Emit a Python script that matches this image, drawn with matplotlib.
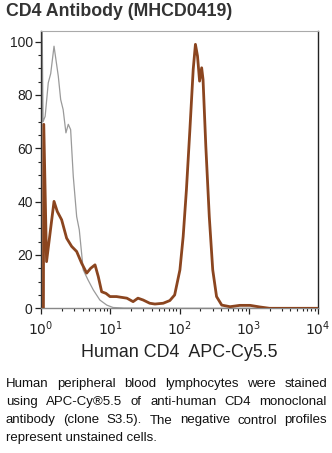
import matplotlib
matplotlib.use("Agg")
import matplotlib.pyplot as plt
import numpy as np
from matplotlib.ticker import FixedLocator, MultipleLocator

plt.rcParams['font.family'] = ['Liberation Sans', 'DejaVu Sans']

# log10(fluorescence) positions and % of max values
control_logx = [0.0, 0.015, 0.03, 0.06, 0.105, 0.14, 0.188, 0.25, 0.284, 0.32, 0.36, 0.394, 0.428,
                0.466, 0.515, 0.553, 0.61, 0.68, 0.755, 0.85, 0.95, 1.04, 1.2, 2.0, 3.0, 4.0]
control_vals = [0.0, 110.0, 70.0, 72.0, 84.6, 88.0, 98.3, 87.0, 78.3, 74.5, 65.8, 69.0, 67.0,
                49.5, 34.4, 29.4, 14.4, 10.6, 6.9, 3.1, 1.2, 0.3, 0.1, 0.0, 0.0, 0.0]

stained_logx = [0.035, 0.04, 0.08, 0.188, 0.235, 0.298, 0.37, 0.443, 0.515, 0.587, 0.66, 0.717,
                0.78, 0.827, 0.876, 0.938, 0.996, 1.09, 1.24, 1.33, 1.40, 1.476, 1.57, 1.645,
                1.765, 1.86, 1.93, 2.006, 2.053, 2.10, 2.15, 2.198, 2.23, 2.26, 2.29, 2.32, 2.34,
                2.38, 2.43, 2.48, 2.535, 2.61, 2.73, 2.87, 3.02, 3.16, 3.3, 4.0]
stained_vals = [0.0, 69.0, 17.5, 40.1, 36.3, 33.2, 26.3, 23.2, 21.3, 16.9, 13.2, 15.0,
                16.3, 11.9, 6.2, 5.6, 4.4, 4.4, 3.8, 2.5, 3.8, 3.1, 1.9, 1.6,
                1.9, 2.9, 5.0, 14.4, 26.9, 44.5, 67.0, 89.6, 99.0, 94.6, 85.2, 90.2, 85.8,
                60.8, 34.4, 14.4, 4.4, 1.2, 0.6, 1.1, 1.1, 0.5, 0.0, 0.0]

xtick_labels = [r'$10^{0}$', r'$10^{1}$', r'$10^{2}$', r'$10^{3}$', r'$10^{4}$']
yticks = [0, 20, 40, 60, 80, 100]

title = "CD4 Antibody (MHCD0419)"
xlabel = "Human CD4  APC-Cy5.5"
caption_lines = [
    "Human peripheral blood lymphocytes were stained",
    "using APC-Cy\u00ae5.5 of anti-human CD4 monoclonal",
    "antibody (clone S3.5). The negative control profiles",
    "represent unstained cells.",
]

W, H = 332, 453
fig = plt.figure(figsize=(W / 100, H / 100), dpi=100)
fig.patch.set_facecolor('white')

ax_l, ax_r, ax_t, ax_b = 41, 318, 31, 308.3
ax = fig.add_axes([ax_l / W, 1 - ax_b / H, (ax_r - ax_l) / W, (ax_b - ax_t) / H])

cx = np.power(10.0, control_logx)
sx = np.power(10.0, stained_logx)
ax.plot(cx, control_vals, color='#9a9a9a', lw=0.9, zorder=2)
ax.plot(sx, stained_vals, color='#8b451f', lw=2.0, zorder=3, solid_joinstyle='round')

ax.set_xscale('log')
ax.set_xlim(1, 1e4)
ax.set_ylim(0, 104)

ax.xaxis.set_major_locator(FixedLocator([1, 10, 100, 1000, 10000]))
ax.xaxis.set_minor_locator(FixedLocator([m * d for d in [1, 10, 100, 1000] for m in range(2, 10)]))
ax.set_xticklabels(xtick_labels)
ax.set_yticks(yticks)
ax.yaxis.set_minor_locator(MultipleLocator(5))
ax.tick_params(axis='both', which='major', direction='out', length=4, width=0.9,
               color='#222222', labelsize=10, labelcolor='#222222', pad=2)
ax.tick_params(axis='both', which='minor', direction='out', length=2.5, width=0.8, color='#222222')
ax.tick_params(axis='x', which='major', pad=4)

ax.spines['left'].set_color('#333333')
ax.spines['left'].set_linewidth(1.0)
ax.spines['right'].set_color('#222222')
ax.spines['right'].set_linewidth(1.0)
ax.spines['top'].set_color('#aaaaaa')
ax.spines['top'].set_linewidth(0.8)
ax.spines['bottom'].set_color('#888888')
ax.spines['bottom'].set_linewidth(1.0)

ax.set_xlabel(xlabel, fontsize=12.9, color='#222222', labelpad=4)

fig.text(6 / W, 1 - 12 / H, title, fontsize=12.8, fontweight='bold', color='#333333',
         ha='left', va='center')

# justified caption
fig.canvas.draw()
renderer = fig.canvas.get_renderer()
left_px, right_px = 6, 327
line_ys = [384, 402, 420.5, 438]
fs = 9.5
for i, (line, ypx) in enumerate(zip(caption_lines, line_ys)):
    words = line.split(' ')
    y = 1 - ypx / H
    if i == len(caption_lines) - 1:
        fig.text(left_px / W, y, line, fontsize=fs, color='#111111', ha='left', va='center')
        continue
    widths = []
    for w_ in words:
        t = fig.text(0, 0, w_, fontsize=fs)
        bb = t.get_window_extent(renderer)
        widths.append(bb.width)
        t.remove()
    gap = (right_px - left_px - sum(widths)) / (len(words) - 1)
    x = left_px
    for w_, wd in zip(words, widths):
        fig.text(x / W, y, w_, fontsize=fs, color='#111111', ha='left', va='center')
        x += wd + gap

fig.savefig('out.png', dpi=100, facecolor='white')
